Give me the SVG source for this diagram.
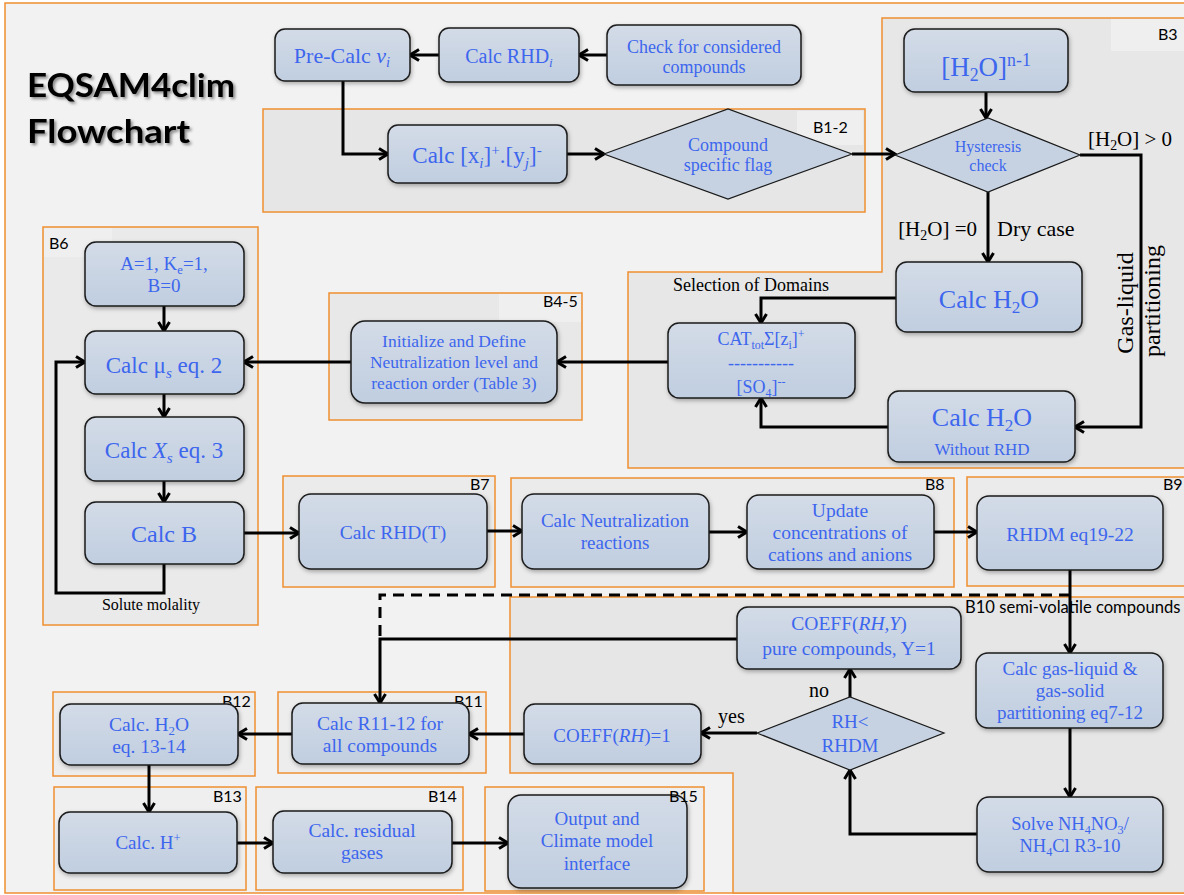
<svg xmlns="http://www.w3.org/2000/svg" width="1184" height="895" viewBox="0 0 1184 895">
<defs>
<linearGradient id="bg" x1="0" y1="0" x2="0" y2="1">
<stop offset="0" stop-color="#d3dbe7"/>
<stop offset="1" stop-color="#c0cee0"/>
</linearGradient>
<filter id="sh" x="-10%" y="-10%" width="130%" height="140%">
<feDropShadow dx="1" dy="2" stdDeviation="2" flood-color="#000" flood-opacity="0.3"/>
</filter>
<filter id="tsh" x="-5%" y="-10%" width="115%" height="130%">
<feDropShadow dx="2" dy="2" stdDeviation="1.5" flood-color="#000" flood-opacity="0.45"/>
</filter>
<marker id="ah" viewBox="0 0 12 14" refX="10.5" refY="7" markerWidth="12" markerHeight="14" markerUnits="userSpaceOnUse" orient="auto">
<path d="M1.5,1.5 L10.5,7 L1.5,12.5" fill="none" stroke="#000" stroke-width="3"/>
</marker>
</defs>
<style>
.reg{stroke:#ef9032;stroke-width:1.5}
.box{fill:url(#bg);stroke:#1a1a1a;stroke-width:1.5;filter:url(#sh)}
.dia{fill:#c6d2e2;stroke:#1a1a1a;stroke-width:1.2}
.t{font-family:"Liberation Serif",serif;fill:#3d66ee;text-anchor:middle}
.k{font-family:"Liberation Serif",serif;fill:#000}
.lb{font-family:Lato,"Liberation Sans",sans-serif;font-size:16px;fill:#000}
.patch{fill:#efefef}
.c{fill:none;stroke:#000;stroke-width:3}
.ca{fill:none;stroke:#000;stroke-width:3;marker-end:url(#ah)}
.sb{font-size:66%;baseline-shift:-0.3em}
.sp{font-size:66%;baseline-shift:0.55em}
.i{font-style:italic}
</style>

<rect x="0" y="0" width="1184" height="895" fill="#ffffff"/>
<rect class="reg" x="5" y="3" width="1200" height="890" fill="#f2f2f2"/>

<g id="regions">
<rect class="reg" x="263" y="109" width="602" height="103" fill="#e6e6e6"/>
<rect class="patch" x="797" y="111" width="66" height="34"/>
<text class="lb" x="813" y="133">B1-2</text>

<path class="reg" d="M882,18 H1200 V468 H628 V272 H882 Z" fill="#e7e7e7"/>
<rect class="patch" x="1111" y="19" width="80" height="32"/>
<text class="lb" x="1158" y="40">B3</text>

<rect class="reg" x="329" y="293" width="253" height="127" fill="#e8e8e8"/>
<rect class="patch" x="499" y="294" width="82" height="28"/>
<text class="lb" x="543" y="307">B4-5</text>

<rect class="reg" x="43" y="227" width="215" height="398" fill="#eaeaea"/>
<rect class="patch" x="44" y="228" width="68" height="29"/>
<text class="lb" x="49" y="249">B6</text>

<rect class="reg" x="283" y="476" width="212" height="111" fill="#ebebeb"/>
<text class="lb" x="470" y="490">B7</text>
<rect class="reg" x="511" y="478" width="443" height="109" fill="#ebebeb"/>
<text class="lb" x="925" y="490">B8</text>
<rect class="reg" x="967" y="477" width="230" height="109" fill="#ebebeb"/>
<text class="lb" x="1163" y="490">B9</text>

<path class="reg" d="M510,597 H1200 V893 H733 V773 H510 Z" fill="#e6e6e6"/>
<text class="lb" x="965" y="613" font-size="16.5" style="font-size:16.6px">B10 semi-volatile compounds</text>

<rect class="reg" x="278" y="692" width="208" height="81" fill="#ededed"/>
<text class="lb" x="454" y="707">B11</text>
<rect class="reg" x="53" y="692" width="202" height="84" fill="#ededed"/>
<text class="lb" x="222" y="707">B12</text>
<rect class="reg" x="54" y="787" width="192" height="103" fill="#efefef"/>
<text class="lb" x="213" y="802">B13</text>
<rect class="reg" x="256" y="787" width="207" height="103" fill="#efefef"/>
<text class="lb" x="428" y="802">B14</text>
<rect class="reg" x="485" y="787" width="219" height="104" fill="#efefef"/>
</g>

<g id="title" filter="url(#tsh)" font-family="Lato,'Liberation Sans',sans-serif" font-weight="700" font-size="33" fill="#000">
<text x="27" y="97" textLength="208" lengthAdjust="spacingAndGlyphs">EQSAM4clim</text>
<text x="27" y="143" textLength="163" lengthAdjust="spacingAndGlyphs">Flowchart</text>
</g>

<g id="connectors">
<line class="ca" x1="607" y1="55" x2="579" y2="55"/>
<line class="ca" x1="439" y1="55" x2="410" y2="55"/>
<path class="ca" d="M343,81 V154 H388"/>
<line class="ca" x1="567" y1="154" x2="604" y2="154"/>
<line class="ca" x1="852" y1="154" x2="895" y2="154"/>
<line class="ca" x1="986" y1="92" x2="986" y2="118"/>
<line class="ca" x1="988" y1="192" x2="988" y2="262"/>
<path class="ca" d="M1080,155 H1141 V427 H1075"/>
<path class="ca" d="M896,298 H761 V323"/>
<path class="ca" d="M889,427 H761 V398"/>
<line class="ca" x1="668" y1="362" x2="557" y2="362"/>
<line class="ca" x1="351" y1="362" x2="244" y2="362"/>
<line class="ca" x1="164" y1="306" x2="164" y2="331"/>
<line class="ca" x1="164" y1="394" x2="164" y2="417"/>
<line class="ca" x1="164" y1="481" x2="164" y2="502"/>
<path class="ca" d="M164,564 V593 H56 V362 H85"/>
<line class="ca" x1="244" y1="533" x2="299" y2="533"/>
<line class="ca" x1="487" y1="531" x2="522" y2="531"/>
<line class="ca" x1="709" y1="532" x2="747" y2="532"/>
<line class="ca" x1="934" y1="532" x2="977" y2="532"/>
<line class="ca" x1="1070" y1="570" x2="1070" y2="653"/>
<line class="ca" x1="1070" y1="728" x2="1070" y2="797"/>
<path class="ca" d="M977,834 H850 V770"/>
<line class="ca" x1="850" y1="697" x2="850" y2="669"/>
<line class="ca" x1="757" y1="733" x2="701" y2="733"/>
<line class="ca" x1="524" y1="734" x2="469" y2="734"/>
<path class="ca" d="M737,639 H380 V703"/>
<path class="c" d="M1070,595 H380 V639" stroke-dasharray="11,7"/>
<line class="ca" x1="292" y1="734" x2="238" y2="734"/>
<line class="ca" x1="149" y1="765" x2="149" y2="812"/>
<line class="ca" x1="237" y1="843" x2="273" y2="843"/>
<line class="ca" x1="452" y1="843" x2="508" y2="843"/>
</g>

<g id="edge-labels">
<text class="k" x="1088" y="146" font-size="21">[H<tspan class="sb">2</tspan>O] &gt; 0</text>
<text class="k" x="977" y="236" font-size="21" text-anchor="end">[H<tspan class="sb">2</tspan>O] =0</text>
<text class="k" x="997" y="236" font-size="22">Dry case</text>
<text class="k" font-size="24" text-anchor="middle" transform="translate(1133,303) rotate(-90)">Gas-liquid</text>
<text class="k" font-size="24" text-anchor="middle" transform="translate(1160,301) rotate(-90)">partitioning</text>
<text class="k" x="673" y="291" font-size="18">Selection of Domains</text>
<text class="k" x="151" y="610" font-size="16" text-anchor="middle">Solute molality</text>
<text class="k" x="809" y="697" font-size="20">no</text>
<text class="k" x="718" y="723" font-size="20">yes</text>
</g>

<g id="n-precalc">
<rect class="box" x="275" y="29" width="135" height="52" rx="10"/>
<text class="t" x="342" y="63" font-size="22">Pre-Calc <tspan class="i">v</tspan><tspan class="i sb">i</tspan></text>
</g>
<g id="n-calcrhd">
<rect class="box" x="439" y="28" width="140" height="54" rx="10"/>
<text class="t" x="509" y="63" font-size="20">Calc RHD<tspan class="i sb">i</tspan></text>
</g>
<g id="n-check">
<rect class="box" x="607" y="25" width="194" height="60" rx="10"/>
<text class="t" x="704" y="53" font-size="18">Check for considered</text>
<text class="t" x="704" y="73" font-size="18">compounds</text>
</g>
<g id="n-calcxy">
<rect class="box" x="388" y="125" width="179" height="58" rx="10"/>
<text class="t" x="477" y="163" font-size="23">Calc [x<tspan class="i sb">i</tspan>]<tspan class="sp">+</tspan>.[y<tspan class="i sb">j</tspan>]<tspan class="sp">-</tspan></text>
</g>
<g id="n-flag">
<polygon class="dia" points="604,154 728,109 852,154 728,199"/>
<text class="t" x="728" y="151" font-size="18">Compound</text>
<text class="t" x="728" y="171" font-size="18">specific flag</text>
</g>
<g id="n-h2on1">
<rect class="box" x="904" y="29" width="164" height="63" rx="11"/>
<text class="t" x="986" y="76" font-size="27">[H<tspan class="sb">2</tspan>O]<tspan class="sp">n-1</tspan></text>
</g>
<g id="n-hyst">
<polygon class="dia" points="895,155 988,118 1080,155 988,192"/>
<text class="t" x="988" y="152" font-size="16">Hysteresis</text>
<text class="t" x="988" y="171" font-size="16">check</text>
</g>
<g id="n-calch2o">
<rect class="box" x="896" y="262" width="186" height="70" rx="11"/>
<text class="t" x="989" y="308" font-size="26">Calc H<tspan class="sb">2</tspan>O</text>
</g>
<g id="n-cat">
<rect class="box" x="668" y="323" width="187" height="75" rx="11"/>
<text class="t" x="761" y="345" font-size="18">CAT<tspan class="sb">tot</tspan>Σ[z<tspan class="sb">i</tspan>]<tspan class="sp">+</tspan></text>
<text class="t" x="761" y="369" font-size="18">-----------</text>
<text class="t" x="761" y="393" font-size="18">[SO<tspan class="sb">4</tspan>]<tspan class="sp">--</tspan></text>
</g>
<g id="n-norhd">
<rect class="box" x="888" y="391" width="187" height="71" rx="11"/>
<text class="t" x="982" y="426" font-size="26">Calc H<tspan class="sb">2</tspan>O</text>
<text class="t" x="982" y="455" font-size="17">Without RHD</text>
</g>
<g id="n-init">
<rect class="box" x="351" y="321" width="206" height="82" rx="14"/>
<text class="t" x="454" y="347" font-size="17.5">Initialize and Define</text>
<text class="t" x="454" y="368" font-size="17.5">Neutralization level and</text>
<text class="t" x="454" y="389" font-size="17.5">reaction order (Table 3)</text>
</g>
<g id="n-a1">
<rect class="box" x="85" y="242" width="159" height="64" rx="11"/>
<text class="t" x="164" y="270" font-size="19">A=1, K<tspan class="sb">e</tspan>=1,</text>
<text class="t" x="164" y="292" font-size="19">B=0</text>
</g>
<g id="n-mu">
<rect class="box" x="85" y="331" width="159" height="63" rx="11"/>
<text class="t" x="164" y="373" font-size="23">Calc μ<tspan class="i sb">s</tspan> eq. 2</text>
</g>
<g id="n-xs">
<rect class="box" x="85" y="417" width="159" height="64" rx="11"/>
<text class="t" x="164" y="458" font-size="23">Calc <tspan class="i">X</tspan><tspan class="i sb">s</tspan> eq. 3</text>
</g>
<g id="n-calcb">
<rect class="box" x="85" y="502" width="159" height="62" rx="11"/>
<text class="t" x="164" y="542" font-size="24">Calc B</text>
</g>
<g id="n-rhdt">
<rect class="box" x="299" y="494" width="188" height="75" rx="12"/>
<text class="t" x="393" y="539" font-size="19.5">Calc RHD(T)</text>
</g>
<g id="n-neut">
<rect class="box" x="522" y="494" width="187" height="75" rx="12"/>
<text class="t" x="615" y="527" font-size="19">Calc Neutralization</text>
<text class="t" x="615" y="549" font-size="19">reactions</text>
</g>
<g id="n-update">
<rect class="box" x="747" y="495" width="187" height="74" rx="12"/>
<text class="t" x="840" y="517" font-size="19.5">Update</text>
<text class="t" x="840" y="539" font-size="19.5">concentrations of</text>
<text class="t" x="840" y="561" font-size="19.5">cations and anions</text>
</g>
<g id="n-rhdm">
<rect class="box" x="977" y="496" width="186" height="74" rx="12"/>
<text class="t" x="1070" y="541" font-size="19.5">RHDM eq19-22</text>
</g>
<g id="n-gasliq">
<rect class="box" x="976" y="653" width="187" height="75" rx="12"/>
<text class="t" x="1070" y="675" font-size="19">Calc gas-liquid &amp;</text>
<text class="t" x="1070" y="697" font-size="19">gas-solid</text>
<text class="t" x="1070" y="719" font-size="19">partitioning eq7-12</text>
</g>
<g id="n-solve">
<rect class="box" x="977" y="797" width="186" height="75" rx="12"/>
<text class="t" x="1070" y="830" font-size="18.5">Solve NH<tspan class="sb">4</tspan>NO<tspan class="sb">3</tspan>/</text>
<text class="t" x="1070" y="852" font-size="18.5">NH<tspan class="sb">4</tspan>Cl R3-10</text>
</g>
<g id="n-rhdia">
<polygon class="dia" points="757,733 850,697 944,733 850,770"/>
<text class="t" x="850" y="728" font-size="19">RH&lt;</text>
<text class="t" x="850" y="752" font-size="19">RHDM</text>
</g>
<g id="n-coeffy">
<rect class="box" x="737" y="607" width="224" height="62" rx="11"/>
<text class="t" x="849" y="630" font-size="19.5">COEFF(<tspan class="i">RH,Y</tspan>)</text>
<text class="t" x="849" y="655" font-size="19.5">pure compounds, Y=1</text>
</g>
<g id="n-coeff1">
<rect class="box" x="524" y="704" width="177" height="60" rx="11"/>
<text class="t" x="612" y="742" font-size="19">COEFF(<tspan class="i">RH</tspan>)=1</text>
</g>
<g id="n-r1112">
<rect class="box" x="292" y="703" width="177" height="61" rx="11"/>
<text class="t" x="380" y="730" font-size="19.5">Calc R11-12 for</text>
<text class="t" x="380" y="752" font-size="19.5">all compounds</text>
</g>
<g id="n-h2oeq">
<rect class="box" x="60" y="704" width="178" height="61" rx="11"/>
<text class="t" x="149" y="731" font-size="19.5">Calc. H<tspan class="sb">2</tspan>O</text>
<text class="t" x="149" y="753" font-size="19.5">eq. 13-14</text>
</g>
<g id="n-hplus">
<rect class="box" x="59" y="812" width="178" height="61" rx="11"/>
<text class="t" x="148" y="849" font-size="19">Calc. H<tspan class="sp">+</tspan></text>
</g>
<g id="n-resid">
<rect class="box" x="273" y="811" width="179" height="62" rx="11"/>
<text class="t" x="362" y="837" font-size="19.5">Calc. residual</text>
<text class="t" x="362" y="859" font-size="19.5">gases</text>
</g>
<g id="n-output">
<rect class="box" x="508" y="795" width="179" height="93" rx="13"/>
<text class="t" x="597" y="825" font-size="19">Output and</text>
<text class="t" x="597" y="847" font-size="19">Climate model</text>
<text class="t" x="597" y="870" font-size="19">interface</text>
</g>
<text class="lb" x="669" y="802">B15</text>
</svg>
